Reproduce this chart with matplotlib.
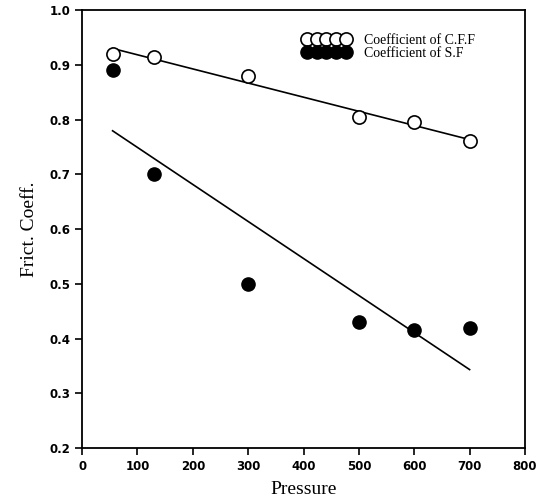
import numpy as np
import matplotlib
matplotlib.use("Agg")
import matplotlib.pyplot as plt

# pressure levels and measured friction coefficients
pressure = [55, 130, 300, 500, 600, 700]
cff_coeff = [0.92, 0.915, 0.88, 0.805, 0.795, 0.76]
sf_coeff = [0.89, 0.70, 0.50, 0.43, 0.415, 0.42]

fig = plt.figure(figsize=(5.44, 5.04), dpi=100)
ax = fig.add_axes([0.151, 0.111, 0.814, 0.869])

# linear fits over the measured range
xfit = np.array([min(pressure), max(pressure)])
p_cff = np.polyfit(pressure, cff_coeff, 1)
p_sf = np.polyfit(pressure, sf_coeff, 1)
ax.plot(xfit, np.polyval(p_cff, xfit), color="black", lw=1.2)
ax.plot(xfit, np.polyval(p_sf, xfit), color="black", lw=1.2)

ax.plot(pressure, cff_coeff, "o", ms=9.5, mfc="white", mec="black", mew=1.2,
        label="Coefficient of C.F.F")
ax.plot(pressure, sf_coeff, "o", ms=9.5, mfc="black", mec="black",
        label="Coefficient of S.F")

ax.set_xlim(0, 800)
ax.set_ylim(0.2, 1.0)
ax.set_xticks(np.arange(0, 801, 100))
ax.set_yticks(np.arange(0.2, 1.01, 0.1))
ax.set_yticklabels([f"{v:.1f}" for v in np.arange(0.2, 1.01, 0.1)])

for lab in ax.get_xticklabels() + ax.get_yticklabels():
    lab.set_fontweight("bold")
    lab.set_fontsize(8.5)
    lab.set_family("DejaVu Sans")
ax.tick_params(direction="out", length=5, width=1.2, top=False, right=False)
for sp in ax.spines.values():
    sp.set_linewidth(1.3)

ax.set_xlabel("Pressure", family="Liberation Serif", fontsize=14, labelpad=6)
ax.set_ylabel("Frict. Coeff.", family="Liberation Serif", fontsize=14, labelpad=8)

# overlapping circles in the legend keys
ax.legend(loc="upper left", bbox_to_anchor=(0.47, 0.975), frameon=False,
          numpoints=5, handlelength=3.4, handletextpad=1.0, labelspacing=0.05,
          prop={"family": "Liberation Serif", "size": 10}, markerscale=1.0)

fig.savefig("out.png", dpi=100)
